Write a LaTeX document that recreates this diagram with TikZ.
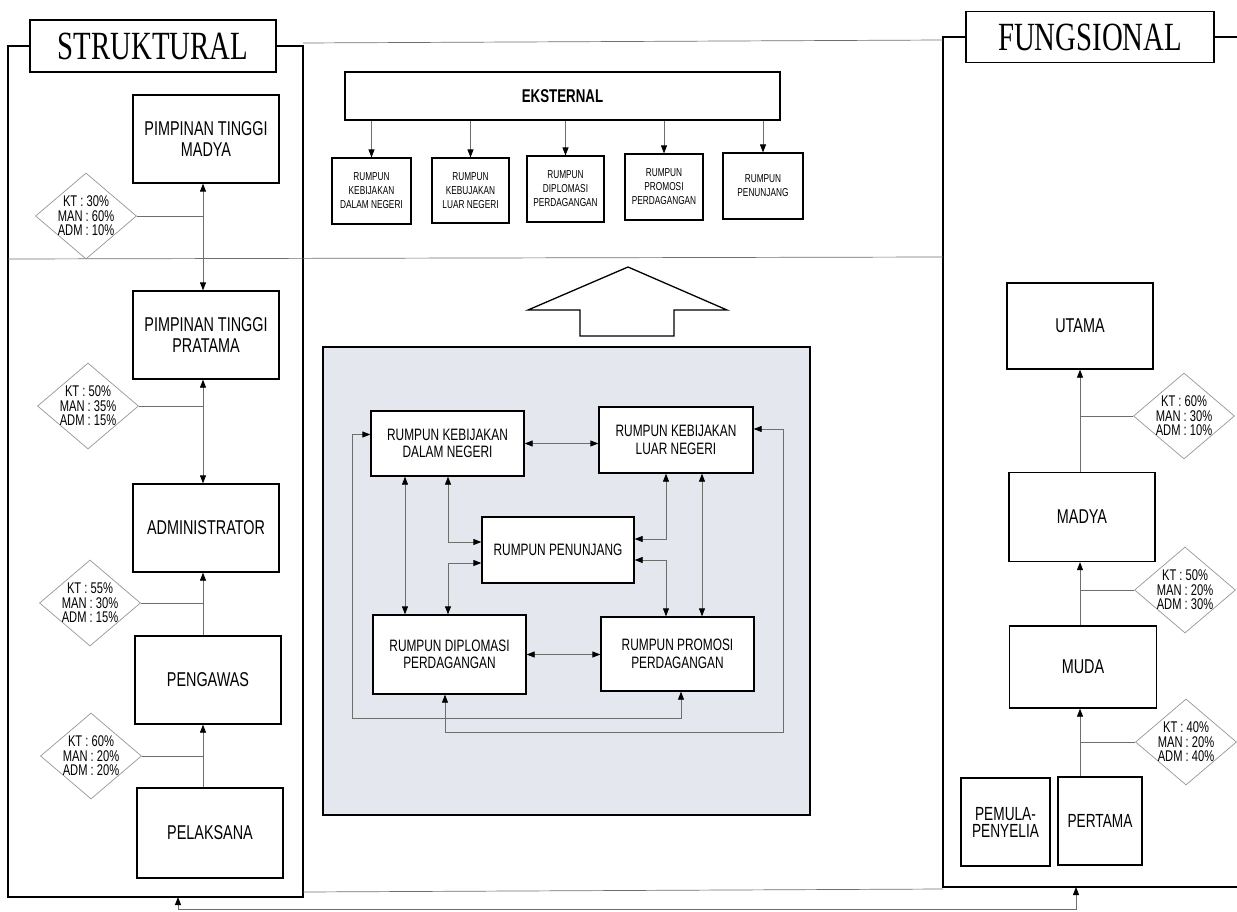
\documentclass[tikz,border=0pt]{standalone}
\usepackage{fontspec}
\newfontfamily\arialx[FakeStretch=0.72]{Liberation Sans}
\newfontfamily\timesx[FakeStretch=0.72]{Liberation Serif}
\usetikzlibrary{arrows.meta,shapes.geometric,calc}
\definecolor{panelfill}{RGB}{228,232,238}
\definecolor{linegray}{RGB}{110,110,110}
\definecolor{diagray}{RGB}{150,150,150}
\begin{document}
\begin{tikzpicture}[x=1pt,y=-1pt,
  bigbox/.style={draw=black,line width=1.3pt,fill=white,inner sep=0pt,align=center,
    font=\arialx\fontsize{20}{21}\selectfont},
  midbox/.style={draw=black,line width=1.3pt,fill=white,inner sep=0pt,align=center,
    font=\arialx\fontsize{16.5}{17.5}\selectfont},
  smallbox/.style={draw=black,line width=1.1pt,fill=white,inner sep=0pt,align=center,
    font=\arialx\fontsize{11.5}{14}\selectfont},
  titlebox/.style={draw=black,line width=1.4pt,fill=white,inner sep=0pt,
    font=\timesx\fontsize{40}{40}\selectfont},
  dia/.style={diamond,draw=diagray,line width=0.7pt,fill=white,aspect=1.17,inner sep=-10pt,
    align=center,minimum width=101pt,minimum height=86pt,
    font=\arialx\fontsize{15.5}{14.5}\selectfont},
  conn/.style={draw=linegray,line width=0.8pt},
  tip/.style={-{Triangle[length=8pt,width=6pt,color=black]}},
  tips/.style={{Triangle[length=8pt,width=6pt,color=black]}-{Triangle[length=8pt,width=6pt,color=black]}},
  frameline/.style={draw=black,line width=1.3pt},
  thinline/.style={draw=linegray,line width=0.7pt}
]
\useasboundingbox (0,0) rectangle (1237,912);

% ---------- frames ----------
\node[titlebox,minimum width=246pt,minimum height=52pt] (st) at (153,46) {STRUKTURAL};
\node[titlebox,minimum width=248pt,minimum height=51pt] (fu) at (1090,37) {FUNGSIONAL};
\draw[frameline] (st.west) -- (8,46) -- (8,897) -- (303,897) -- (303,46) -- (st.east);
\draw[frameline] (fu.west) -- (943,37) -- (943,887) -- (1237,887);
\draw[frameline] (fu.east) -- (1237,37);
\draw[thinline] (303,43) -- (943,40);
\draw[thinline] (8,259) -- (943,257);
\draw[thinline] (303,892) -- (943,889);

% bottom connector between the two frames
\coordinate (sb) at (178,897);
\coordinate (fb) at (1076,887);
\draw[conn,tips] (sb) -- (178,909) -- (1076,909) -- (fb);

% ---------- STRUKTURAL column ----------
\node[bigbox,minimum width=146pt,minimum height=88pt] (ptm) at (206,139) {PIMPINAN TINGGI\\MADYA};
\node[bigbox,minimum width=146pt,minimum height=88pt] (ptp) at (206,335) {PIMPINAN TINGGI\\PRATAMA};
\node[bigbox,minimum width=146pt,minimum height=88pt] (adm) at (206,528) {ADMINISTRATOR};
\node[bigbox,minimum width=146pt,minimum height=88pt] (peng) at (208,680) {PENGAWAS};
\node[bigbox,minimum width=146pt,minimum height=90pt] (pel) at (210,833) {PELAKSANA};
\coordinate (cl) at (203,0);
\draw[conn,tips] (ptm.south -| cl) -- (ptp.north -| cl);
\draw[conn,tips] (ptp.south -| cl) -- (adm.north -| cl);
\draw[conn,tip] (peng.north -| cl) -- (adm.south -| cl);
\draw[conn,tip] (pel.north -| cl) -- (peng.south -| cl);

\node[dia] (d1) at (86,216) {KT : 30\%\\MAN : 60\%\\ADM : 10\%};
\node[dia] (d2) at (88,406) {KT : 50\%\\MAN : 35\%\\ADM : 15\%};
\node[dia] (d3) at (90,603) {KT : 55\%\\MAN : 30\%\\ADM : 15\%};
\node[dia] (d4) at (91,756) {KT : 60\%\\MAN : 20\%\\ADM : 20\%};
\foreach \d in {d1,d2,d3,d4} \draw[conn] (\d.east) -- (\d.east -| cl);

% ---------- FUNGSIONAL column ----------
\node[bigbox,minimum width=146pt,minimum height=86pt] (ut) at (1080,326) {UTAMA};
\node[bigbox,minimum width=146pt,minimum height=89pt] (md) at (1082,517) {MADYA};
\node[bigbox,minimum width=147pt,minimum height=82pt] (mu) at (1083,667) {MUDA};
\node[bigbox,minimum width=89pt,minimum height=88pt,font=\arialx\fontsize{19}{17}\selectfont] (pem) at (1005.5,822) {PEMULA-\\PENYELIA};
\node[bigbox,minimum width=84pt,minimum height=88pt,font=\arialx\fontsize{19}{17}\selectfont] (per) at (1100,821) {PERTAMA};
\coordinate (cr) at (1080,0);
\draw[conn,tip] (md.north -| cr) -- (ut.south -| cr);
\draw[conn,tip] (mu.north -| cr) -- (md.south -| cr);
\draw[conn,tip] (per.north -| cr) -- (mu.south -| cr);

\node[dia] (r1) at (1184,416) {KT : 60\%\\MAN : 30\%\\ADM : 10\%};
\node[dia] (r2) at (1185,590) {KT : 50\%\\MAN : 20\%\\ADM : 30\%};
\node[dia] (r3) at (1186,742) {KT : 40\%\\MAN : 20\%\\ADM : 40\%};
\foreach \d in {r1,r2,r3} \draw[conn] (\d.west) -- (\d.west -| cr);

% ---------- EKSTERNAL ----------
\node[draw=black,line width=1.3pt,fill=white,minimum width=435pt,minimum height=48pt,
  font=\arialx\bfseries\fontsize{18.5}{20}\selectfont] (ek) at (562.5,96) {EKSTERNAL};
\node[smallbox,minimum width=79pt,minimum height=66pt] (b1) at (371.5,191) {RUMPUN\\KEBIJAKAN\\DALAM NEGERI};
\node[smallbox,minimum width=77pt,minimum height=65pt] (b2) at (470.5,190.5) {RUMPUN\\KEBUJAKAN\\LUAR NEGERI};
\node[smallbox,minimum width=77pt,minimum height=66pt] (b3) at (565.5,189) {RUMPUN\\DIPLOMASI\\PERDAGANGAN};
\node[smallbox,minimum width=78pt,minimum height=66pt] (b4) at (664,187) {RUMPUN\\PROMOSI\\PERDAGANGAN};
\node[smallbox,minimum width=80pt,minimum height=66pt] (b5) at (763,186) {RUMPUN\\PENUNJANG};
\foreach \b in {b1,b2,b3,b4,b5} \draw[conn,tip] (ek.south -| \b.north) -- (\b.north);

% big up arrow
\draw[line width=1.3pt,fill=white] (628,267) -- (727,310) -- (674,310) -- (674,336) -- (580,336) -- (580,310) -- (528,310) -- cycle;

% ---------- inner panel ----------
\node[draw=black,line width=1.8pt,fill=panelfill,minimum width=487pt,minimum height=468pt,inner sep=0pt] (panel) at (566.5,581) {};
\node[midbox,minimum width=153pt,minimum height=65pt] (rkd) at (447.5,443.5) {RUMPUN KEBIJAKAN\\DALAM NEGERI};
\node[midbox,minimum width=154pt,minimum height=66pt] (rkl) at (676,440) {RUMPUN KEBIJAKAN\\LUAR NEGERI};
\node[midbox,minimum width=152pt,minimum height=66pt] (rp) at (558,550) {RUMPUN PENUNJANG};
\node[midbox,minimum width=153pt,minimum height=79pt] (rdp) at (449.5,654.5) {RUMPUN DIPLOMASI\\PERDAGANGAN};
\node[midbox,minimum width=153pt,minimum height=74pt] (rpp) at (677.5,654) {RUMPUN PROMOSI\\PERDAGANGAN};

\coordinate (xa) at (405,0);
\coordinate (xb) at (448,0);
\coordinate (xc) at (666,0);
\coordinate (xd) at (702,0);
\coordinate (xe) at (681,0);
\coordinate (xf) at (445,0);
\coordinate (l1) at (352,718);
\coordinate (l2) at (783,732);

\draw[conn,tips] (rkd.east) -- (rkd.east -| rkl.west);
\draw[conn,tips] (rdp.east) -- (rdp.east -| rpp.west);
\draw[conn,tips] (rkd.south -| xa) -- (rdp.north -| xa);
\draw[conn,tips] (rkl.south -| xd) -- (rpp.north -| xd);
\draw[conn,tips] (rkd.south -| xb) |- ([yshift=8pt]rp.west);
\draw[conn,tips] (rdp.north -| xb) |- ([yshift=-13pt]rp.west);
\draw[conn,tips] (rkl.south -| xc) |- ([yshift=11pt]rp.east);
\draw[conn,tips] (rpp.north -| xc) |- ([yshift=-10pt]rp.east);
\draw[conn,tips] ([yshift=9pt]rkd.west) -| (l1) -| (rpp.south -| xe);
\draw[conn,tips] ([yshift=11pt]rkl.east) -| (l2) -| (rdp.south -| xf);
\end{tikzpicture}
\end{document}
